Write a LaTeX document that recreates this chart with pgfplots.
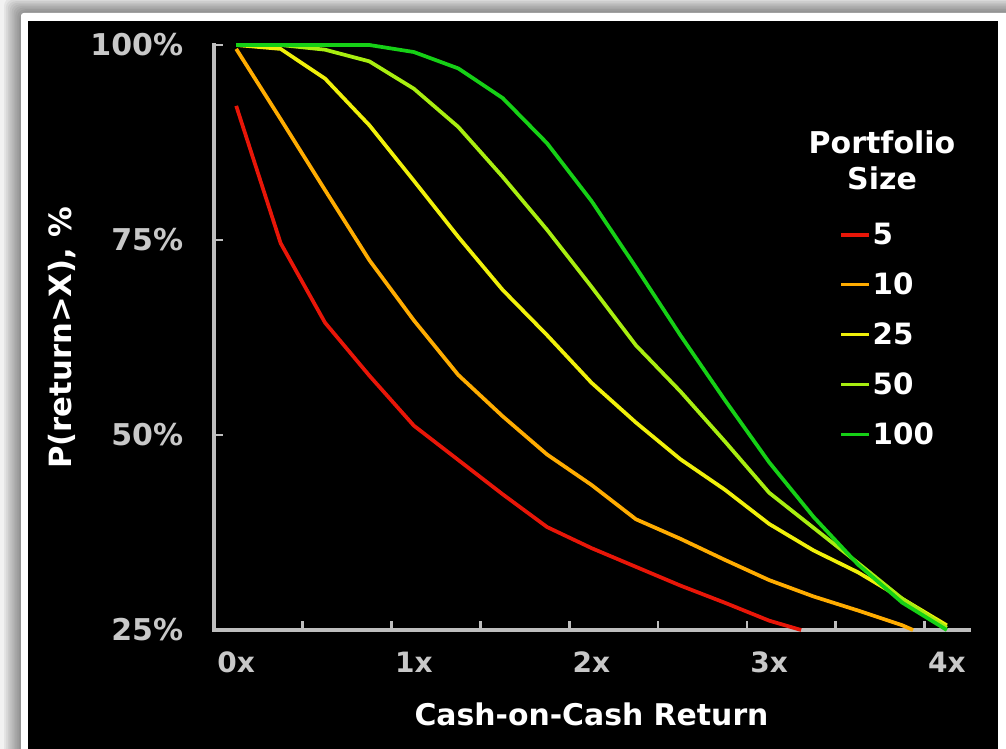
\documentclass[border=0pt]{standalone}
\usepackage{fontspec}
\setmainfont{DejaVu Sans}
\usepackage{pgfplots}
\pgfplotsset{compat=1.18}
\definecolor{cRed}{RGB}{232,22,8}
\definecolor{cOrange}{RGB}{255,172,0}
\definecolor{cYellow}{RGB}{240,240,10}
\definecolor{cLime}{RGB}{168,238,16}
\definecolor{cGreen}{RGB}{22,208,22}
\definecolor{axisgray}{RGB}{190,190,190}
\definecolor{labelgray}{RGB}{200,200,200}
\begin{document}
\begin{tikzpicture}
\begin{scope}[x=0.75pt,y=-0.75pt]
\useasboundingbox (0,0) rectangle (1006,749);
\clip (0,0) rectangle (1006,749);
\fill[white!95!black] (0,0) rectangle (1006,749);
\foreach \i in {0,...,8} {
  \fill[black,opacity=0.05,rounded corners=6] (4+1.9*\i,-2+1.6*\i) rectangle (1030,780);
}
\fill[white,rounded corners=2] (21,13) rectangle (1030,780);
\fill[black] (28,21) rectangle (998,780);
\end{scope}
\begin{axis}[
  at={(160.5pt,-472.5pt)}, anchor=south west,
  scale only axis, width=566.25pt, height=438.75pt,
  xmin=-0.125, xmax=4.125, ymin=25, ymax=100,
  clip=false,
  axis x line=bottom, axis y line=left,
  axis line style={-, draw=axisgray, line width=2.6pt, line cap=rect},
  tick align=inside, major tick length=7pt,
  tick style={draw=axisgray, line width=2pt},
  xtick={0.375,0.875,1.375,1.875,2.375,2.875,3.375,3.875},
  xticklabels={},
  extra x ticks={0,1,2,3,4},
  extra x tick labels={0x,1x,2x,3x,4x},
  extra x tick style={major tick length=0pt, tick style={draw=none}},
  ytick={25,50,75,100},
  yticklabels={25\%,50\%,75\%,100\%},
  ticklabel style={font=\fontsize{22.5}{26}\selectfont\bfseries, text=labelgray},
  yticklabel style={inner sep=0pt, xshift=-23pt},
  xticklabel style={inner sep=0pt, anchor=north, yshift=-16pt, font=\fontsize{21}{25}\selectfont\bfseries},
  xlabel={Cash-on-Cash Return},
  ylabel={P(return>X), \%},
  xlabel style={at={(axis description cs:0.5,-0.1436)}, anchor=center, text=white, font=\fontsize{22.4}{26}\selectfont\bfseries},
  ylabel style={at={(axis description cs:-0.2013,0.5)}, anchor=center, text=white, font=\fontsize{23}{27}\selectfont\bfseries},
  legend cell align=left,
  legend style={at={(axis description cs:0.8278,0.6957)}, anchor=north west, draw=none, fill=none, text=white,
    font=\fontsize{22}{26}\selectfont\bfseries, row sep=19.6pt, column sep=1.5pt, inner sep=0pt,
    nodes={inner sep=0pt}},
  legend image code/.code={\draw[#1, line width=2.6pt] (0pt,0pt) -- (21pt,0pt);},
  every axis plot/.append style={line width=2.8pt, line join=round, no markers},
]
\addplot[cRed] coordinates {(0,92.2) (0.25,74.6) (0.5,64.4) (0.75,57.6) (1,51.2) (1.25,46.8) (1.5,42.4) (1.75,38.2) (2,35.5) (2.25,33.1) (2.5,30.7) (2.75,28.5) (3,26.2) (3.18,25.0)};
\addlegendentry{5}
\addplot[cOrange] coordinates {(0,99.5) (0.25,90.5) (0.5,81.4) (0.75,72.4) (1,64.7) (1.25,57.7) (1.5,52.4) (1.75,47.5) (2,43.6) (2.25,39.2) (2.5,36.7) (2.75,34.0) (3,31.4) (3.25,29.3) (3.5,27.5) (3.75,25.6) (3.81,25.0)};
\addlegendentry{10}
\addplot[cYellow] coordinates {(0,100) (0.25,99.5) (0.5,95.7) (0.75,89.7) (1,82.6) (1.25,75.4) (1.5,68.6) (1.75,62.8) (2,56.7) (2.25,51.6) (2.5,46.9) (2.75,43.0) (3,38.6) (3.25,35.2) (3.5,32.4) (3.75,29.0) (4,25.6)};
\addlegendentry{25}
\addplot[cLime] coordinates {(0,100) (0.25,100) (0.5,99.4) (0.75,97.9) (1,94.4) (1.25,89.5) (1.5,83.1) (1.75,76.3) (2,69.0) (2.25,61.5) (2.5,55.6) (2.75,49.2) (3,42.6) (3.25,38.1) (3.5,33.6) (3.75,29.0) (4,25.3)};
\addlegendentry{50}
\addplot[cGreen] coordinates {(0,100) (0.25,100) (0.5,100) (0.75,100) (1,99.1) (1.25,97.0) (1.5,93.2) (1.75,87.4) (2,80.0) (2.25,71.5) (2.5,62.8) (2.75,54.5) (3,46.5) (3.25,39.5) (3.5,33.4) (3.75,28.5) (4,25.0)};
\addlegendentry{100}
\node[align=center, text=white, font=\fontsize{22.5}{27}\selectfont\bfseries] at (axis description cs:0.8848,0.8034) {Portfolio\\Size};
\end{axis}
\end{tikzpicture}
\end{document}
